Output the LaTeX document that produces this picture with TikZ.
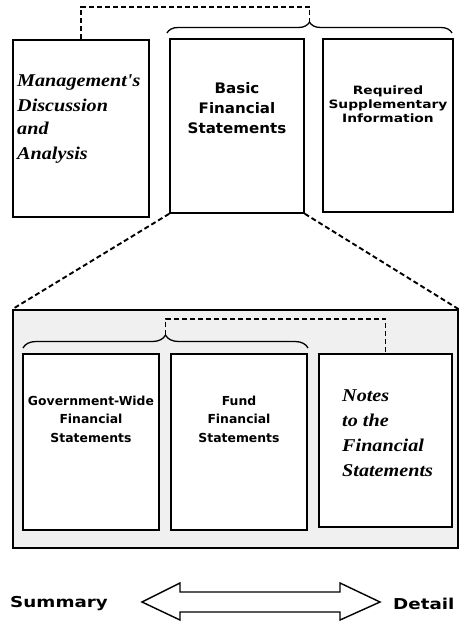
\documentclass[tikz,border=0pt]{standalone}
\usepackage{fontspec}
\newfontfamily\heavysans{DejaVu Sans Bold}
\newfontfamily\scriptface{Liberation Serif}
\usetikzlibrary{decorations.pathreplacing}
\tikzset{
 box/.style={draw,line width=1.5pt,fill=white,inner sep=0pt},
 dashline/.style={line width=1.9pt,dash pattern=on 5pt off 3pt},
 bracket/.style={line width=1.3pt,decorate,decoration={brace,amplitude=#1}},
 plainlab/.style={font={\heavysans\fontsize{#1}{#1}\selectfont},align=center,inner sep=0pt},
 scriptlab/.style={font={\scriptface\bfseries\itshape\fontsize{18}{25}\selectfont},align=left,inner sep=0pt,anchor=west,xscale=1.12},
}
\begin{document}
\begin{tikzpicture}[x=1pt,y=-1pt]
\useasboundingbox (0,0) rectangle (460,626);
\node[box,minimum width=136,minimum height=177] (mda) at (81,128.5) {};
\node[box,minimum width=134,minimum height=174] (bfs) at (237,126) {};
\node[box,minimum width=130,minimum height=173] (rsi) at (388,125.5) {};
\node[scriptlab] (mdatxt) at (17,119) {Management's\\Discussion\\[-2pt]and\\Analysis};
\node[plainlab=14.5,font={\heavysans\fontsize{14.5}{20}\selectfont},xscale=1.04] (bfstxt) at (237,108) {Basic\\Financial\\Statements};
\node[plainlab=11.5,font={\heavysans\fontsize{11.5}{14}\selectfont},xscale=1.2] (rsitxt) at (388,104) {Required\\Supplementary\\Information};
\draw[bracket=11] (167,33) -- (452,33) coordinate[pos=0.5] (topbrace);
\path (topbrace) ++(0,-11) coordinate (toptip);
\draw[dashline] (mda.north) -- (mda.north |- 0,7) -| (toptip);
\node[draw,line width=1.5pt,fill=gray!12,minimum width=445,minimum height=238,inner sep=0pt] (outer) at (235.5,429) {};
\draw[dashline] (bfs.south west) -- (outer.north west);
\draw[dashline] (bfs.south east) -- (outer.north east);
\node[box,minimum width=136,minimum height=176] (gw) at (91,442) {};
\node[box,minimum width=136,minimum height=176] (fund) at (239,442) {};
\node[box,minimum width=133,minimum height=173] (notes) at (385.5,440.5) {};
\node[plainlab=12.4,font={\heavysans\fontsize{12.4}{18.5}\selectfont}] (gwtxt) at (91,419) {Government-Wide\\Financial\\Statements};
\node[plainlab=12.4,font={\heavysans\fontsize{12.4}{18.5}\selectfont}] (fundtxt) at (239,419) {Fund\\Financial\\Statements};
\node[scriptlab] (notestxt) at (342,433) {Notes\\to the\\Financial\\Statements};
\draw[bracket=13] (23,348) -- (308,348) coordinate[pos=0.5] (inbrace);
\path (inbrace) ++(0,-13) coordinate (intip);
\draw[dashline] (intip) -- (intip |- 0,319) -| (notes.north);
\node[plainlab=15,font={\heavysans\fontsize{15}{18}\selectfont},xscale=1.22,anchor=west] (summary) at (10,604) {Summary};
\node[plainlab=15,font={\heavysans\fontsize{15}{18}\selectfont},xscale=1.22,anchor=west] (detail) at (393,604) {Detail};
\draw[line width=1.4pt,fill=white] (142,602) -- (180,583) -- (180,592) -- (340,592) -- (340,583) -- (380,602)
 -- (340,620) -- (340,612) -- (180,612) -- (180,620) -- cycle;
\end{tikzpicture}
\end{document}
